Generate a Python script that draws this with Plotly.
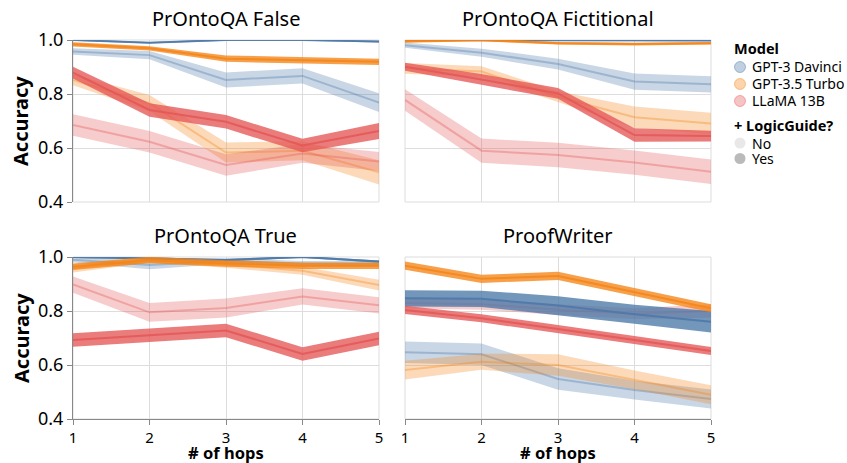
import plotly.graph_objects as go

hops = [1, 2, 3, 4, 5]
models = ["GPT-3 Davinci", "GPT-3.5 Turbo", "LLaMA 13B"]
colors = {"GPT-3 Davinci": "#4c78a8", "GPT-3.5 Turbo": "#f58518", "LLaMA 13B": "#e45756"}
tasks = ["PrOntoQA False", "PrOntoQA Fictitional", "PrOntoQA True", "ProofWriter"]
guides = ["No", "Yes"]

# ---- PrOntoQA False ----
false_gpt3_no = [0.957, 0.944, 0.852, 0.867, 0.768]
false_gpt3_no_err = [0.012, 0.015, 0.028, 0.028, 0.035]
false_gpt35_no = [0.852, 0.766, 0.583, 0.59, 0.51]
false_gpt35_no_err = [0.02, 0.03, 0.037, 0.035, 0.045]
false_llama_no = [0.685, 0.623, 0.537, 0.58, 0.55]
false_llama_no_err = [0.04, 0.04, 0.04, 0.035, 0.035]
false_gpt3_yes = [1.0, 0.99, 1.0, 1.0, 0.994]
false_gpt3_yes_err = [0.003, 0.003, 0.003, 0.003, 0.003]
false_gpt35_yes = [0.984, 0.969, 0.931, 0.925, 0.919]
false_gpt35_yes_err = [0.008, 0.008, 0.012, 0.012, 0.012]
false_llama_yes = [0.879, 0.741, 0.697, 0.609, 0.663]
false_llama_yes_err = [0.022, 0.025, 0.025, 0.025, 0.03]

# ---- PrOntoQA Fictitional ----
fict_gpt3_no = [0.981, 0.953, 0.911, 0.846, 0.836]
fict_gpt3_no_err = [0.01, 0.015, 0.02, 0.03, 0.03]
fict_gpt35_no = [0.895, 0.883, 0.79, 0.714, 0.691]
fict_gpt35_no_err = [0.02, 0.02, 0.02, 0.04, 0.04]
fict_llama_no = [0.778, 0.59, 0.574, 0.546, 0.512]
fict_llama_no_err = [0.04, 0.045, 0.045, 0.045, 0.045]
fict_gpt3_yes = [1.0, 1.0, 1.0, 1.0, 0.998]
fict_gpt3_yes_err = [0.003, 0.003, 0.003, 0.003, 0.003]
fict_gpt35_yes = [0.995, 1.0, 0.988, 0.985, 0.988]
fict_gpt35_yes_err = [0.005, 0.005, 0.005, 0.005, 0.005]
fict_llama_yes = [0.901, 0.854, 0.802, 0.648, 0.644]
fict_llama_yes_err = [0.015, 0.02, 0.02, 0.025, 0.02]

# ---- PrOntoQA True ----
true_gpt3_no = [0.99, 0.97, 0.985, 0.975, 0.975]
true_gpt3_no_err = [0.01, 0.015, 0.01, 0.01, 0.01]
true_gpt35_no = [0.958, 0.988, 0.972, 0.949, 0.896]
true_gpt35_no_err = [0.015, 0.008, 0.012, 0.015, 0.02]
true_llama_no = [0.898, 0.795, 0.811, 0.854, 0.821]
true_llama_no_err = [0.03, 0.035, 0.035, 0.03, 0.03]
true_gpt3_yes = [1.0, 0.995, 0.989, 1.0, 0.983]
true_gpt3_yes_err = [0.004, 0.004, 0.004, 0.004, 0.004]
true_gpt35_yes = [0.964, 0.989, 0.976, 0.968, 0.968]
true_gpt35_yes_err = [0.012, 0.012, 0.012, 0.012, 0.012]
true_llama_yes = [0.693, 0.71, 0.728, 0.641, 0.698]
true_llama_yes_err = [0.025, 0.025, 0.025, 0.025, 0.025]

# ---- ProofWriter ----
pw_gpt3_no = [0.647, 0.64, 0.548, 0.507, 0.474]
pw_gpt3_no_err = [0.04, 0.04, 0.04, 0.035, 0.035]
pw_gpt35_no = [0.581, 0.612, 0.6, 0.545, 0.49]
pw_gpt35_no_err = [0.035, 0.03, 0.04, 0.035, 0.035]
pw_llama_no = [0.83, 0.825, 0.805, 0.79, 0.80]
pw_llama_no_err = [0.02, 0.02, 0.02, 0.02, 0.025]
pw_gpt3_yes = [0.847, 0.845, 0.82, 0.788, 0.76]
pw_gpt3_yes_err = [0.03, 0.03, 0.035, 0.035, 0.04]
pw_gpt35_yes = [0.968, 0.919, 0.93, 0.871, 0.81]
pw_gpt35_yes_err = [0.015, 0.015, 0.015, 0.015, 0.015]
pw_llama_yes = [0.804, 0.773, 0.733, 0.693, 0.652]
pw_llama_yes_err = [0.015, 0.015, 0.015, 0.015, 0.015]

data = {
    "PrOntoQA False": {
        "No": [(false_gpt3_no, false_gpt3_no_err), (false_gpt35_no, false_gpt35_no_err), (false_llama_no, false_llama_no_err)],
        "Yes": [(false_gpt3_yes, false_gpt3_yes_err), (false_gpt35_yes, false_gpt35_yes_err), (false_llama_yes, false_llama_yes_err)],
    },
    "PrOntoQA Fictitional": {
        "No": [(fict_gpt3_no, fict_gpt3_no_err), (fict_gpt35_no, fict_gpt35_no_err), (fict_llama_no, fict_llama_no_err)],
        "Yes": [(fict_gpt3_yes, fict_gpt3_yes_err), (fict_gpt35_yes, fict_gpt35_yes_err), (fict_llama_yes, fict_llama_yes_err)],
    },
    "PrOntoQA True": {
        "No": [(true_gpt3_no, true_gpt3_no_err), (true_gpt35_no, true_gpt35_no_err), (true_llama_no, true_llama_no_err)],
        "Yes": [(true_gpt3_yes, true_gpt3_yes_err), (true_gpt35_yes, true_gpt35_yes_err), (true_llama_yes, true_llama_yes_err)],
    },
    "ProofWriter": {
        "No": [(pw_gpt3_no, pw_gpt3_no_err), (pw_gpt35_no, pw_gpt35_no_err), (pw_llama_no, pw_llama_no_err)],
        "Yes": [(pw_gpt3_yes, pw_gpt3_yes_err), (pw_gpt35_yes, pw_gpt35_yes_err), (pw_llama_yes, pw_llama_yes_err)],
    },
}

W, H = 847, 463
FONT = "Noto Sans"
xdom = [[73 / W, 379 / W], [405 / W, 711 / W]]
ydom = [[(H - 202) / H, (H - 40) / H], [(H - 419) / H, (H - 257) / H]]

band_op = {"No": 0.3, "Yes": 0.78}
line_op = {"No": 0.35, "Yes": 0.85}


def hex_rgba(h, a):
    h = h.lstrip("#")
    return f"rgba({int(h[0:2], 16)},{int(h[2:4], 16)},{int(h[4:6], 16)},{a})"


fig = go.Figure()
layout = {}
for i, task in enumerate(tasks):
    r, c = divmod(i, 2)
    n = i + 1
    xa = "x" if n == 1 else f"x{n}"
    ya = "y" if n == 1 else f"y{n}"
    for guide in guides:
        for m, (vals, errs) in zip(models, data[task][guide]):
            col = colors[m]
            upper = [v + e for v, e in zip(vals, errs)]
            lower = [v - e for v, e in zip(vals, errs)]
            fig.add_trace(go.Scatter(
                x=hops + hops[::-1], y=upper + lower[::-1], fill="toself",
                fillcolor=col, opacity=band_op[guide], line=dict(width=0),
                mode="lines", hoverinfo="skip", showlegend=False, xaxis=xa, yaxis=ya))
            fig.add_trace(go.Scatter(
                x=hops, y=vals, mode="lines", line=dict(color=col, width=2),
                name=f"{m} ({guide})", opacity=line_op[guide], showlegend=False,
                xaxis=xa, yaxis=ya))
    xkey = "xaxis" if n == 1 else f"xaxis{n}"
    ykey = "yaxis" if n == 1 else f"yaxis{n}"
    bottom = r == 1
    left = c == 0
    layout[xkey] = dict(
        domain=xdom[c], anchor=ya, range=[1, 5], tickvals=hops, automargin=False,
        showticklabels=bottom, showline=bottom, linecolor="#888", linewidth=1,
        ticks="outside" if bottom else "", ticklen=5, tickcolor="#888",
        ticklabelstandoff=0,
        gridcolor="#ddd", zeroline=False,
        tickfont=dict(family=FONT, size=15, color="#000"),
    )
    layout[ykey] = dict(
        domain=ydom[r], anchor=xa, range=[0.4, 1.0], tickvals=[0.4, 0.6, 0.8, 1.0],
        ticktext=["0.4", "0.6", "0.8", "1.0"], automargin=False,
        showticklabels=left, showline=left, linecolor="#888", linewidth=1,
        ticks="outside" if left else "", ticklen=5, tickcolor="#888",
        gridcolor="#ddd", zeroline=False,
        tickfont=dict(family=FONT, size=18, color="#000"),
    )

shapes = []
annotations = []
for i, task in enumerate(tasks):
    n = i + 1
    xa = "x" if n == 1 else f"x{n}"
    ya = "y" if n == 1 else f"y{n}"
    shapes.append(dict(type="rect", xref=f"{xa} domain", yref=f"{ya} domain",
                       x0=0, x1=1, y0=0, y1=1, line=dict(color="#ddd", width=1), layer="below"))
    r, c = divmod(i, 2)
    annotations.append(dict(text=task, xref="paper", yref="paper",
                            x=(xdom[c][0] + xdom[c][1]) / 2, y=ydom[r][1] + 22 / H,
                            xanchor="center", yanchor="middle", showarrow=False,
                            font=dict(family=FONT, size=20, color="#000")))
    if c == 0:
        annotations.append(dict(text="<b>Accuracy</b>", xref="paper", yref="paper",
                                x=21 / W, y=(ydom[r][0] + ydom[r][1]) / 2, textangle=-90,
                                xanchor="center", yanchor="middle", showarrow=False,
                                font=dict(family=FONT, size=20, color="#000")))
    if r == 1:
        annotations.append(dict(text="<b># of hops</b>", xref="paper", yref="paper",
                                x=(xdom[c][0] + xdom[c][1]) / 2, y=(H - 452) / H,
                                xanchor="center", yanchor="middle", showarrow=False,
                                font=dict(family=FONT, size=16.5, color="#000")))

# ---- legend (drawn as symbols + labels, in pixel layout) ----
LX_SYM, LX_TXT, LX_TITLE = 740, 750, 732
annotations.append(dict(text="<b>Model</b>", xref="paper", yref="paper", x=LX_TITLE / W, y=(H - 48) / H,
                        xanchor="left", yanchor="middle", showarrow=False,
                        font=dict(family=FONT, size=14.5, color="#000")))
for k, m in enumerate(models):
    yy = 67 + 17 * k
    shapes.append(dict(type="circle", xref="paper", yref="paper",
                       x0=(LX_SYM - 5.5) / W, x1=(LX_SYM + 5.5) / W,
                       y0=(H - yy - 5.5) / H, y1=(H - yy + 5.5) / H,
                       fillcolor=hex_rgba(colors[m], 0.35), line=dict(color=hex_rgba(colors[m], 0.45), width=1)))
    annotations.append(dict(text=m, xref="paper", yref="paper", x=LX_TXT / W, y=(H - yy) / H,
                            xanchor="left", yanchor="middle", showarrow=False,
                            font=dict(family=FONT, size=14, color="#000")))
annotations.append(dict(text="<b>+ LogicGuide?</b>", xref="paper", yref="paper", x=LX_TITLE / W, y=(H - 125) / H,
                        xanchor="left", yanchor="middle", showarrow=False,
                        font=dict(family=FONT, size=14.5, color="#000")))
for k, (g, fc) in enumerate([("No", "rgba(0,0,0,0.09)"), ("Yes", "rgba(0,0,0,0.27)")]):
    yy = 143 + 15.5 * k
    shapes.append(dict(type="circle", xref="paper", yref="paper",
                       x0=(LX_SYM - 5.5) / W, x1=(LX_SYM + 5.5) / W,
                       y0=(H - yy - 5.5) / H, y1=(H - yy + 5.5) / H,
                       fillcolor=fc, line=dict(width=0)))
    annotations.append(dict(text=g, xref="paper", yref="paper", x=LX_TXT / W, y=(H - yy) / H,
                            xanchor="left", yanchor="middle", showarrow=False,
                            font=dict(family=FONT, size=14, color="#000")))

fig.update_layout(
    width=W, height=H, margin=dict(l=0, r=0, t=0, b=0, autoexpand=False),
    plot_bgcolor="white", paper_bgcolor="white", showlegend=False,
    font=dict(family=FONT, color="#000"),
    shapes=shapes, annotations=annotations,
    **layout,
)
fig.write_html("out.html", config={"displayModeBar": False},
               post_script="document.body.style.margin='0';document.body.style.overflow='hidden';")
